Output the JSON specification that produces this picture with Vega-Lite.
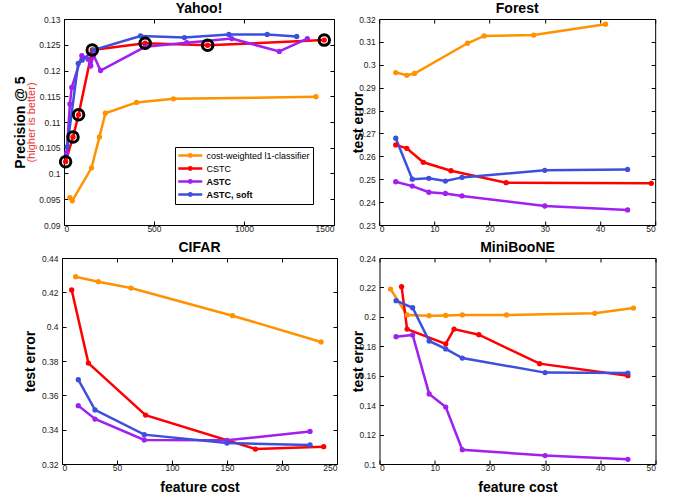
{
  "$schema": "https://vega.github.io/schema/vega-lite/v6.json",
  "padding": {"left": 13, "top": 1, "right": 5, "bottom": 0},
  "background": "white",
  "config": {
    "font": "Liberation Sans",
    "view": {"stroke": "black", "strokeWidth": 1},
    "axis": {"grid": false, "domain": false, "tickSize": -4, "tickColor": "black", "tickWidth": 1, "labelFontSize": 8.5, "labelColor": "#222", "labelPadding": 7, "titleFontSize": 14, "titleFontWeight": "bold", "titleColor": "black", "format": "~f"},
    "axisX": {"labelPadding": 3},
    "title": {"fontSize": 14, "fontWeight": "bold", "offset": -1, "anchor": "middle", "color": "black"}
  },
  "datasets": {
    "all": [
      {"d": "Yahoo", "s": "cost-weighted l1-classifier", "c": 33, "v": 0.0953},
      {"d": "Yahoo", "s": "cost-weighted l1-classifier", "c": 46, "v": 0.0947},
      {"d": "Yahoo", "s": "cost-weighted l1-classifier", "c": 153, "v": 0.1011},
      {"d": "Yahoo", "s": "cost-weighted l1-classifier", "c": 197, "v": 0.1071},
      {"d": "Yahoo", "s": "cost-weighted l1-classifier", "c": 230, "v": 0.1117},
      {"d": "Yahoo", "s": "cost-weighted l1-classifier", "c": 403, "v": 0.1138},
      {"d": "Yahoo", "s": "cost-weighted l1-classifier", "c": 608, "v": 0.1145},
      {"d": "Yahoo", "s": "cost-weighted l1-classifier", "c": 1400, "v": 0.1149},
      {"d": "Yahoo", "s": "CSTC", "c": 9, "v": 0.1023},
      {"d": "Yahoo", "s": "CSTC", "c": 50, "v": 0.1071},
      {"d": "Yahoo", "s": "CSTC", "c": 81, "v": 0.1114},
      {"d": "Yahoo", "s": "CSTC", "c": 157, "v": 0.124},
      {"d": "Yahoo", "s": "CSTC", "c": 451, "v": 0.1253},
      {"d": "Yahoo", "s": "CSTC", "c": 798, "v": 0.1249},
      {"d": "Yahoo", "s": "CSTC", "c": 1446, "v": 0.1259},
      {"d": "Yahoo", "s": "ASTC", "c": 15, "v": 0.104},
      {"d": "Yahoo", "s": "ASTC", "c": 33, "v": 0.1135},
      {"d": "Yahoo", "s": "ASTC", "c": 43, "v": 0.1167},
      {"d": "Yahoo", "s": "ASTC", "c": 99, "v": 0.1229},
      {"d": "Yahoo", "s": "ASTC", "c": 134, "v": 0.1222},
      {"d": "Yahoo", "s": "ASTC", "c": 149, "v": 0.1209},
      {"d": "Yahoo", "s": "ASTC", "c": 164, "v": 0.123},
      {"d": "Yahoo", "s": "ASTC", "c": 203, "v": 0.12},
      {"d": "Yahoo", "s": "ASTC", "c": 451, "v": 0.1246},
      {"d": "Yahoo", "s": "ASTC", "c": 682, "v": 0.1254},
      {"d": "Yahoo", "s": "ASTC", "c": 932, "v": 0.1262},
      {"d": "Yahoo", "s": "ASTC", "c": 1196, "v": 0.1237},
      {"d": "Yahoo", "s": "ASTC", "c": 1352, "v": 0.1262},
      {"d": "Yahoo", "s": "ASTC, soft", "c": 18, "v": 0.1052},
      {"d": "Yahoo", "s": "ASTC, soft", "c": 79, "v": 0.1214},
      {"d": "Yahoo", "s": "ASTC, soft", "c": 101, "v": 0.122},
      {"d": "Yahoo", "s": "ASTC, soft", "c": 166, "v": 0.124},
      {"d": "Yahoo", "s": "ASTC, soft", "c": 425, "v": 0.1267},
      {"d": "Yahoo", "s": "ASTC, soft", "c": 669, "v": 0.1264},
      {"d": "Yahoo", "s": "ASTC, soft", "c": 916, "v": 0.127},
      {"d": "Yahoo", "s": "ASTC, soft", "c": 1129, "v": 0.127},
      {"d": "Yahoo", "s": "ASTC, soft", "c": 1293, "v": 0.1266},

      {"d": "Forest", "s": "cost-weighted l1-classifier", "c": 3, "v": 0.2966},
      {"d": "Forest", "s": "cost-weighted l1-classifier", "c": 5, "v": 0.2954},
      {"d": "Forest", "s": "cost-weighted l1-classifier", "c": 6.4, "v": 0.2962},
      {"d": "Forest", "s": "cost-weighted l1-classifier", "c": 16, "v": 0.3094},
      {"d": "Forest", "s": "cost-weighted l1-classifier", "c": 19, "v": 0.3126},
      {"d": "Forest", "s": "cost-weighted l1-classifier", "c": 28, "v": 0.313},
      {"d": "Forest", "s": "cost-weighted l1-classifier", "c": 41, "v": 0.3177},
      {"d": "Forest", "s": "CSTC", "c": 3, "v": 0.265},
      {"d": "Forest", "s": "CSTC", "c": 5, "v": 0.2635},
      {"d": "Forest", "s": "CSTC", "c": 8, "v": 0.2574},
      {"d": "Forest", "s": "CSTC", "c": 13, "v": 0.2537},
      {"d": "Forest", "s": "CSTC", "c": 23, "v": 0.2485},
      {"d": "Forest", "s": "CSTC", "c": 49.3, "v": 0.2482},
      {"d": "Forest", "s": "ASTC", "c": 3, "v": 0.2489},
      {"d": "Forest", "s": "ASTC", "c": 6, "v": 0.247},
      {"d": "Forest", "s": "ASTC", "c": 9, "v": 0.2443},
      {"d": "Forest", "s": "ASTC", "c": 12, "v": 0.2438},
      {"d": "Forest", "s": "ASTC", "c": 15, "v": 0.2427},
      {"d": "Forest", "s": "ASTC", "c": 30, "v": 0.2383},
      {"d": "Forest", "s": "ASTC", "c": 45, "v": 0.2366},
      {"d": "Forest", "s": "ASTC, soft", "c": 3, "v": 0.2679},
      {"d": "Forest", "s": "ASTC, soft", "c": 6, "v": 0.25},
      {"d": "Forest", "s": "ASTC, soft", "c": 9, "v": 0.2504},
      {"d": "Forest", "s": "ASTC, soft", "c": 12, "v": 0.2492},
      {"d": "Forest", "s": "ASTC, soft", "c": 15, "v": 0.2508},
      {"d": "Forest", "s": "ASTC, soft", "c": 30, "v": 0.2539},
      {"d": "Forest", "s": "ASTC, soft", "c": 45, "v": 0.2543},

      {"d": "CIFAR", "s": "cost-weighted l1-classifier", "c": 12.4, "v": 0.4291},
      {"d": "CIFAR", "s": "cost-weighted l1-classifier", "c": 33, "v": 0.4262},
      {"d": "CIFAR", "s": "cost-weighted l1-classifier", "c": 62.7, "v": 0.4225},
      {"d": "CIFAR", "s": "cost-weighted l1-classifier", "c": 155, "v": 0.4064},
      {"d": "CIFAR", "s": "cost-weighted l1-classifier", "c": 235.5, "v": 0.3911},
      {"d": "CIFAR", "s": "CSTC", "c": 8.8, "v": 0.4214},
      {"d": "CIFAR", "s": "CSTC", "c": 24, "v": 0.3788},
      {"d": "CIFAR", "s": "CSTC", "c": 76, "v": 0.3485},
      {"d": "CIFAR", "s": "CSTC", "c": 175.8, "v": 0.3287},
      {"d": "CIFAR", "s": "CSTC", "c": 237.9, "v": 0.3301},
      {"d": "CIFAR", "s": "ASTC", "c": 14.8, "v": 0.354},
      {"d": "CIFAR", "s": "ASTC", "c": 30, "v": 0.3462},
      {"d": "CIFAR", "s": "ASTC", "c": 74.8, "v": 0.334},
      {"d": "CIFAR", "s": "ASTC", "c": 150, "v": 0.3338},
      {"d": "CIFAR", "s": "ASTC", "c": 225.5, "v": 0.339},
      {"d": "CIFAR", "s": "ASTC, soft", "c": 14.8, "v": 0.3691},
      {"d": "CIFAR", "s": "ASTC, soft", "c": 30, "v": 0.3515},
      {"d": "CIFAR", "s": "ASTC, soft", "c": 74.8, "v": 0.3371},
      {"d": "CIFAR", "s": "ASTC, soft", "c": 150, "v": 0.3322},
      {"d": "CIFAR", "s": "ASTC, soft", "c": 225.5, "v": 0.3311},

      {"d": "MiniBooNE", "s": "cost-weighted l1-classifier", "c": 2, "v": 0.2189},
      {"d": "MiniBooNE", "s": "cost-weighted l1-classifier", "c": 5, "v": 0.2013},
      {"d": "MiniBooNE", "s": "cost-weighted l1-classifier", "c": 9, "v": 0.2008},
      {"d": "MiniBooNE", "s": "cost-weighted l1-classifier", "c": 12, "v": 0.201},
      {"d": "MiniBooNE", "s": "cost-weighted l1-classifier", "c": 15, "v": 0.2013},
      {"d": "MiniBooNE", "s": "cost-weighted l1-classifier", "c": 23, "v": 0.2013},
      {"d": "MiniBooNE", "s": "cost-weighted l1-classifier", "c": 39, "v": 0.2024},
      {"d": "MiniBooNE", "s": "cost-weighted l1-classifier", "c": 46, "v": 0.206},
      {"d": "MiniBooNE", "s": "CSTC", "c": 4, "v": 0.2205},
      {"d": "MiniBooNE", "s": "CSTC", "c": 5, "v": 0.1917},
      {"d": "MiniBooNE", "s": "CSTC", "c": 12, "v": 0.1816},
      {"d": "MiniBooNE", "s": "CSTC", "c": 13.5, "v": 0.1917},
      {"d": "MiniBooNE", "s": "CSTC", "c": 18, "v": 0.1879},
      {"d": "MiniBooNE", "s": "CSTC", "c": 29, "v": 0.1682},
      {"d": "MiniBooNE", "s": "CSTC", "c": 45, "v": 0.16},
      {"d": "MiniBooNE", "s": "ASTC", "c": 3, "v": 0.1865},
      {"d": "MiniBooNE", "s": "ASTC", "c": 6, "v": 0.1877},
      {"d": "MiniBooNE", "s": "ASTC", "c": 9, "v": 0.1476},
      {"d": "MiniBooNE", "s": "ASTC", "c": 12, "v": 0.1387},
      {"d": "MiniBooNE", "s": "ASTC", "c": 15, "v": 0.1097},
      {"d": "MiniBooNE", "s": "ASTC", "c": 30, "v": 0.1057},
      {"d": "MiniBooNE", "s": "ASTC", "c": 45, "v": 0.1032},
      {"d": "MiniBooNE", "s": "ASTC, soft", "c": 3, "v": 0.211},
      {"d": "MiniBooNE", "s": "ASTC, soft", "c": 6, "v": 0.2062},
      {"d": "MiniBooNE", "s": "ASTC, soft", "c": 9, "v": 0.1836},
      {"d": "MiniBooNE", "s": "ASTC, soft", "c": 12, "v": 0.1782},
      {"d": "MiniBooNE", "s": "ASTC, soft", "c": 15, "v": 0.172},
      {"d": "MiniBooNE", "s": "ASTC, soft", "c": 30, "v": 0.1621},
      {"d": "MiniBooNE", "s": "ASTC, soft", "c": 45, "v": 0.1618}
    ]
  },
  "data": {"name": "all"},
  "spacing": 13,
  "resolve": {"scale": {"color": "independent"}, "legend": {"color": "independent"}},
  "hconcat": [
    {
      "vconcat": [
        {
          "width": 270, "height": 206,
          "title": {"text": "Yahoo!"},
          "transform": [{"filter": "datum.d === 'Yahoo'"}],
          "layer": [
            {
              "mark": {"type": "line", "strokeWidth": 2.5, "point": {"filled": true, "size": 28}},
              "encoding": {
                "x": {"field": "c", "type": "quantitative", "scale": {"domain": [0, 1500], "nice": false, "zero": false}, "axis": {"values": [0, 500, 1000, 1500], "title": null}},
                "y": {"field": "v", "type": "quantitative", "scale": {"domain": [0.09, 0.13], "nice": false, "zero": false}, "axis": {"values": [0.09, 0.095, 0.1, 0.105, 0.11, 0.115, 0.12, 0.125, 0.13], "labelPadding": 8, "title": "(higher is better)", "titleColor": "#EE3535", "titleFontSize": 11, "titleFontWeight": "normal", "titlePadding": 2}},
                "color": {"field": "s", "type": "nominal", "scale": {"domain": ["cost-weighted l1-classifier", "CSTC", "ASTC", "ASTC, soft"], "range": ["#FF9200", "#FF0000", "#A020F0", "#3C50DC"]},
                  "legend": {"orient": "bottom-right", "offset": 21, "title": null, "strokeColor": "black", "fillColor": "white", "padding": 3, "labelFontSize": 9, "labelColor": "black", "symbolType": "M-1.31,0H4.69M1.38,0A0.31,0.31 0 1,0 2,0A0.31,0.31 0 1,0 1.38,0", "symbolSize": 64, "symbolStrokeWidth": 2.5, "rowPadding": 0, "labelOffset": 17.5,
                    "encode": {"labels": {"update": {"fontWeight": {"signal": "datum.label === 'ASTC' || datum.label === 'ASTC, soft' ? 'bold' : 'normal'"}}}}}}
              }
            },
            {
              "transform": [{"filter": "datum.s === 'CSTC'"}],
              "mark": {"type": "point", "shape": "circle", "filled": false, "color": "black", "strokeWidth": 3, "size": 110, "opacity": 1},
              "encoding": {
                "x": {"field": "c", "type": "quantitative", "axis": null},
                "y": {"field": "v", "type": "quantitative", "axis": null}
              }
            },
            {
              "mark": {"type": "point", "opacity": 0},
              "encoding": {
                "x": {"field": "c", "type": "quantitative", "axis": {"orient": "top", "labels": false, "title": null, "values": [0, 500, 1000, 1500]}},
                "y": {"field": "v", "type": "quantitative", "axis": {"orient": "right", "labels": false, "title": null, "values": [0.09, 0.095, 0.1, 0.105, 0.11, 0.115, 0.12, 0.125, 0.13]}}
              }
            },
            {
              "mark": {"type": "point", "opacity": 0},
              "encoding": {
                "x": {"field": "c", "type": "quantitative", "axis": null},
                "y": {"field": "v", "type": "quantitative", "axis": {"orient": "left", "labels": false, "ticks": false, "title": "Precision @ 5", "titlePadding": 36}}
              }
            }
          ],
          "resolve": {"axis": {"x": "independent", "y": "independent"}}
        },
        {
          "width": 275, "height": 206,
          "title": {"text": "CIFAR"},
          "transform": [{"filter": "datum.d === 'CIFAR'"}],
          "layer": [
            {
              "mark": {"type": "line", "strokeWidth": 2.5, "point": {"filled": true, "size": 28}},
              "encoding": {
                "x": {"field": "c", "type": "quantitative", "scale": {"domain": [0, 250], "nice": false, "zero": false}, "axis": {"values": [0, 50, 100, 150, 200, 250], "title": "feature cost", "titlePadding": 9}},
                "y": {"field": "v", "type": "quantitative", "scale": {"domain": [0.32, 0.44], "nice": false, "zero": false}, "axis": {"values": [0.32, 0.34, 0.36, 0.38, 0.4, 0.42, 0.44], "labelPadding": 8, "title": "test error", "titlePadding": 4}},
                "color": {"field": "s", "type": "nominal", "scale": {"domain": ["cost-weighted l1-classifier", "CSTC", "ASTC", "ASTC, soft"], "range": ["#FF9200", "#FF0000", "#A020F0", "#3C50DC"]}, "legend": null}
              }
            },
            {
              "mark": {"type": "point", "opacity": 0},
              "encoding": {
                "x": {"field": "c", "type": "quantitative", "axis": {"orient": "top", "labels": false, "title": null, "values": [0, 50, 100, 150, 200, 250]}},
                "y": {"field": "v", "type": "quantitative", "axis": {"orient": "right", "labels": false, "title": null, "values": [0.32, 0.34, 0.36, 0.38, 0.4, 0.42, 0.44]}}
              }
            }
          ],
          "resolve": {"axis": {"x": "independent", "y": "independent"}}
        }
      ],
      "center": true,
      "spacing": 7,
      "resolve": {"scale": {"color": "independent"}, "legend": {"color": "independent"}}
    },
    {
      "vconcat": [
        {
          "width": 276, "height": 206,
          "title": {"text": "Forest"},
          "transform": [{"filter": "datum.d === 'Forest'"}],
          "layer": [
            {
              "mark": {"type": "line", "strokeWidth": 2.5, "point": {"filled": true, "size": 28}},
              "encoding": {
                "x": {"field": "c", "type": "quantitative", "scale": {"domain": [0, 50], "nice": false, "zero": false}, "axis": {"values": [0, 10, 20, 30, 40, 50], "title": null}},
                "y": {"field": "v", "type": "quantitative", "scale": {"domain": [0.23, 0.32], "nice": false, "zero": false}, "axis": {"values": [0.23, 0.24, 0.25, 0.26, 0.27, 0.28, 0.29, 0.3, 0.31, 0.32], "labelPadding": 8, "title": "test error", "titlePadding": -7}},
                "color": {"field": "s", "type": "nominal", "scale": {"domain": ["cost-weighted l1-classifier", "CSTC", "ASTC", "ASTC, soft"], "range": ["#FF9200", "#FF0000", "#A020F0", "#3C50DC"]}, "legend": null}
              }
            },
            {
              "mark": {"type": "point", "opacity": 0},
              "encoding": {
                "x": {"field": "c", "type": "quantitative", "axis": {"orient": "top", "labels": false, "title": null, "values": [0, 10, 20, 30, 40, 50]}},
                "y": {"field": "v", "type": "quantitative", "axis": {"orient": "right", "labels": false, "title": null, "values": [0.23, 0.24, 0.25, 0.26, 0.27, 0.28, 0.29, 0.3, 0.31, 0.32]}}
              }
            }
          ],
          "resolve": {"axis": {"x": "independent", "y": "independent"}}
        },
        {
          "width": 276, "height": 206,
          "title": {"text": "MiniBooNE"},
          "transform": [{"filter": "datum.d === 'MiniBooNE'"}],
          "layer": [
            {
              "mark": {"type": "line", "strokeWidth": 2.5, "point": {"filled": true, "size": 28}},
              "encoding": {
                "x": {"field": "c", "type": "quantitative", "scale": {"domain": [0, 50], "nice": false, "zero": false}, "axis": {"values": [0, 10, 20, 30, 40, 50], "title": "feature cost", "titlePadding": 9}},
                "y": {"field": "v", "type": "quantitative", "scale": {"domain": [0.1, 0.24], "nice": false, "zero": false}, "axis": {"values": [0.1, 0.12, 0.14, 0.16, 0.18, 0.2, 0.22, 0.24], "labelPadding": 8, "title": "test error", "titlePadding": -7}},
                "color": {"field": "s", "type": "nominal", "scale": {"domain": ["cost-weighted l1-classifier", "CSTC", "ASTC", "ASTC, soft"], "range": ["#FF9200", "#FF0000", "#A020F0", "#3C50DC"]}, "legend": null}
              }
            },
            {
              "mark": {"type": "point", "opacity": 0},
              "encoding": {
                "x": {"field": "c", "type": "quantitative", "axis": {"orient": "top", "labels": false, "title": null, "values": [0, 10, 20, 30, 40, 50]}},
                "y": {"field": "v", "type": "quantitative", "axis": {"orient": "right", "labels": false, "title": null, "values": [0.1, 0.12, 0.14, 0.16, 0.18, 0.2, 0.22, 0.24]}}
              }
            }
          ],
          "resolve": {"axis": {"x": "independent", "y": "independent"}}
        }
      ],
      "center": true,
      "spacing": 7,
      "resolve": {"scale": {"color": "independent"}, "legend": {"color": "independent"}}
    }
  ]
}
